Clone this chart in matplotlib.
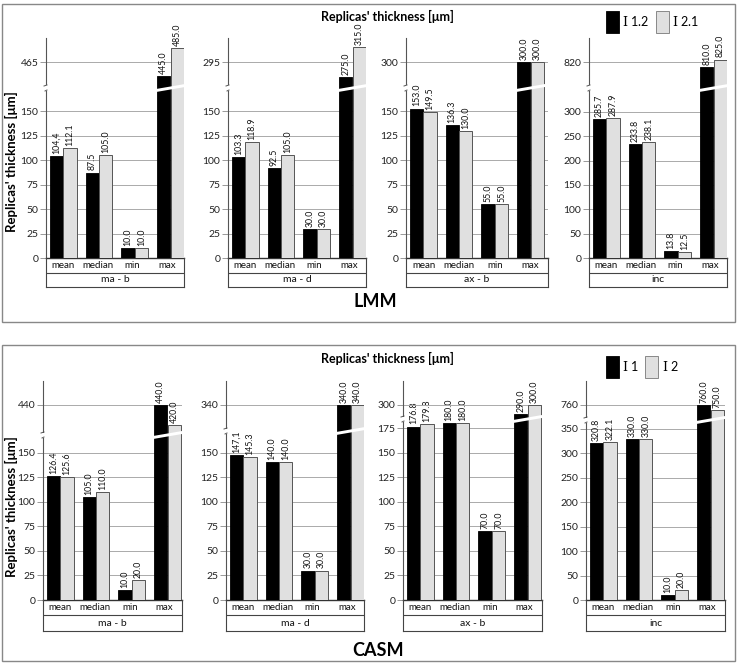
import numpy as np
import matplotlib.pyplot as plt
import matplotlib.transforms as mtransforms
from matplotlib.patches import Patch, Polygon, Rectangle

plt.rcParams['font.family'] = ['Lato', 'DejaVu Sans']
plt.rcParams['mathtext.fontset'] = 'dejavuserif'

# data
cats = ['mean', 'median', 'min', 'max']
groups = ['ma - b', 'ma - d', 'ax - b', 'inc']

lmm_i12 = [[104.4, 87.5, 10.0, 445.0],
           [103.3, 92.5, 30.0, 275.0],
           [153.0, 136.3, 55.0, 300.0],
           [285.7, 233.8, 13.8, 810.0]]
lmm_i21 = [[112.1, 105.0, 10.0, 485.0],
           [118.9, 105.0, 30.0, 315.0],
           [149.5, 130.0, 55.0, 300.0],
           [287.9, 238.1, 12.5, 825.0]]

casm_i1 = [[126.4, 105.0, 10.0, 440.0],
           [147.1, 140.0, 30.0, 340.0],
           [176.8, 180.0, 70.0, 290.0],
           [320.8, 330.0, 10.0, 760.0]]
casm_i2 = [[125.6, 110.0, 20.0, 420.0],
           [145.3, 140.0, 30.0, 340.0],
           [179.8, 180.0, 70.0, 300.0],
           [322.1, 330.0, 20.0, 750.0]]

# tick shown on the upper (broken) part of each axis
lmm_upper_tick = [465, 295, 300, 820]
casm_upper_tick = [440, 340, 300, 760]

# labels printed with a decimal comma in the original
lmm_comma = {(0, 0, 0)}
casm_comma = {(1, 0, 0)}

W, H = 739, 665
PXU = 35.8          # px per category on x
BW = 0.37
OFF = 0.19
NARROW = ['Liberation Sans Narrow', 'Lato', 'DejaVu Sans']

fig = plt.figure(figsize=(W / 100, H / 100), dpi=100)


def rect(l, t, r, b):
    return [l / W, 1 - b / H, (r - l) / W, (b - t) / H]


def fmt(v, comma):
    s = f'{v:.1f}'
    return s.replace('.', ',') if comma else s


def style(ax):
    ax.set_facecolor('none')
    for s in ('top', 'right'):
        ax.spines[s].set_visible(False)
    ax.spines['left'].set_color('#555555')
    ax.spines['left'].set_linewidth(0.8)
    ax.grid(axis='y', color='#aaaaaa', lw=0.7)
    ax.set_axisbelow(True)
    ax.set_xticks([])
    ax.tick_params(axis='y', length=4, width=0.7, color='#999999',
                   labelsize=7.5, pad=1.5, labelcolor='#222222')


def draw_panel(s1, s2, up_ticks, comma, lefts, rights, zero, brk, top,
               tick_px, lo_top, lo_step, up_scale, tab_div, tab_bot):
    x = np.arange(len(cats))
    for g in range(4):
        l, r = lefts[g], rights[g]
        xmin = -0.48
        xmax = xmin + (r - l) / PXU
        axl = fig.add_axes(rect(l, brk[g], r, zero))
        axu = fig.add_axes(rect(l, top, r, brk[g]))
        axt = fig.add_axes(rect(l, zero, r, tab_bot))
        for ax in (axl, axu):
            style(ax)
            ax.set_xlim(xmin, xmax)
            ax.bar(x - OFF, s1[g], BW, color='black', edgecolor='black',
                   lw=0.6, zorder=3)
            ax.bar(x + OFF, s2[g], BW, color='#e0e0e0', edgecolor='#555555',
                   lw=0.7, zorder=3)
        axl.set_ylim(0, lo_top[g])
        axl.set_yticks(np.arange(0, lo_top[g] + 0.1, lo_step[g]))
        axl.spines['bottom'].set_color('#333333')
        axl.spines['bottom'].set_linewidth(1.0)
        t = up_ticks[g]
        sc = up_scale[g]
        axu.set_ylim(t - (brk[g] - tick_px) / sc, t + (tick_px - top) / sc)
        axu.set_yticks([t])
        axu.spines['bottom'].set_visible(False)

        # value labels
        for si, (ser, off) in enumerate(((s1, -OFF), (s2, OFF))):
            for i in range(len(cats)):
                v = ser[g][i]
                ax = axu if v > lo_top[g] else axl
                ax.annotate(fmt(v, (g, si, i) in comma), (i + off, v),
                            xytext=(0, 1.5), textcoords='offset points',
                            rotation=90, ha='center', va='bottom',
                            fontsize=6.3, color='#111111',
                            annotation_clip=False, family=NARROW)

        # slanted break across the max bars
        tr = mtransforms.blended_transform_factory(axl.transData, fig.transFigure)
        x0 = 3 - OFF - BW / 2 - 0.03
        x1 = 3 + OFF + BW / 2 + 0.03
        rise, th = 5, 3
        b = brk[g]
        pts = [(x0, 1 - (b + rise / 2 + th / 2) / H),
               (x0, 1 - (b + rise / 2 - th / 2) / H),
               (x1, 1 - (b - rise / 2 - th / 2) / H),
               (x1, 1 - (b - rise / 2 + th / 2) / H)]
        fig.add_artist(Polygon(pts, closed=True, transform=tr, fc='white',
                               ec='none', zorder=5))
        # break in the spine
        fig.add_artist(Rectangle(((l - 2) / W, 1 - (b + 2.5) / H), 4 / W, 5 / H,
                                 transform=fig.transFigure, fc='white',
                                 ec='none', zorder=5))
        fig.add_artist(plt.Line2D([(l - 2) / W, (l + 1) / W],
                                  [1 - (b - 2) / H, 1 - (b - 3) / H],
                                  transform=fig.transFigure, color='#555555',
                                  lw=0.7, zorder=6))
        fig.add_artist(plt.Line2D([(l - 1) / W, (l + 1) / W],
                                  [1 - (b + 3) / H, 1 - (b + 2) / H],
                                  transform=fig.transFigure, color='#555555',
                                  lw=0.7, zorder=6))

        # category table
        axt.set_facecolor('none')
        axt.set_xlim(0, 1)
        axt.set_ylim(0, 1)
        axt.set_xticks([])
        axt.set_yticks([])
        axt.spines['top'].set_visible(False)
        for s in ('left', 'right', 'bottom'):
            axt.spines[s].set_color('#444444')
            axt.spines[s].set_linewidth(0.8)
        dv = (tab_bot - tab_div) / (tab_bot - zero)
        axt.axhline(dv, color='#444444', lw=0.8)
        for i, c in enumerate(cats):
            axt.text((i + 0.5) / 4, (1 + dv) / 2, c, ha='center', va='center',
                     fontsize=7, family=NARROW, color='#111111')
        axt.text(0.5, dv / 2, groups[g], ha='center', va='center',
                 fontsize=7.5, color='#111111')


# LMM panel
draw_panel(lmm_i12, lmm_i21, lmm_upper_tick, lmm_comma,
           lefts=[46, 228, 406, 589], rights=[184, 366, 548, 727],
           zero=258, brk=[88, 88, 88, 88], top=38, tick_px=62,
           lo_top=[174, 174, 174, 349], lo_step=[25, 25, 25, 50],
           up_scale=[0.7, 0.75, 0.75, 0.5], tab_div=273, tab_bot=287)

# CASM panel
draw_panel(casm_i1, casm_i2, casm_upper_tick, casm_comma,
           lefts=[43, 226, 403, 586], rights=[182, 364, 542, 725],
           zero=600, brk=[435, 431, 419, 420], top=381, tick_px=405,
           lo_top=[168, 172, 184.5, 368], lo_step=[25, 25, 25, 50],
           up_scale=[1.0, 1.0, 0.93, 0.46], tab_div=615, tab_bot=631)

# frames, titles, legends
for t, b in ((4, 322), (345, 661)):
    fig.add_artist(Rectangle((2 / W, 1 - b / H), 733 / W, (b - t) / H,
                             transform=fig.transFigure, fill=False,
                             ec='#888888', lw=1.0, zorder=0))

title = "Replicas' thickness [\u03bcm]"
fig.text(387 / W, 1 - 16 / H, title, ha='center', va='center',
         fontsize=9, fontweight='bold')
fig.text(387 / W, 1 - 358 / H, title, ha='center', va='center',
         fontsize=9, fontweight='bold')
fig.text(11 / W, 1 - 162 / H, title, ha='center', va='center', rotation=90,
         fontsize=9.5, fontweight='bold')
fig.text(11 / W, 1 - 507 / H, title, ha='center', va='center', rotation=90,
         fontsize=9.5, fontweight='bold')
fig.text(375 / W, 1 - 302 / H, 'LMM', ha='center', va='center',
         fontsize=13, fontweight='bold')
fig.text(378 / W, 1 - 651 / H, 'CASM', ha='center', va='center',
         fontsize=13, fontweight='bold')

h_black = Patch(fc='black', ec='black', lw=0.6)
h_gray = Patch(fc='#e0e0e0', ec='#888888', lw=0.7)
for y, labs in ((8, [r'$\mathrm{I}$ 1.2', r'$\mathrm{I}$ 2.1']),
                (353, [r'$\mathrm{I}$ 1', r'$\mathrm{I}$ 2'])):
    fig.legend([h_black, h_gray], labs, loc='upper left',
               bbox_to_anchor=(603 / W, 1 - y / H), ncol=2, frameon=False,
               handlelength=1.05, handleheight=2.4, fontsize=9,
               handletextpad=0.3, columnspacing=0.5, borderaxespad=0,
               borderpad=0.2)

fig.savefig('out.png', dpi=100)
